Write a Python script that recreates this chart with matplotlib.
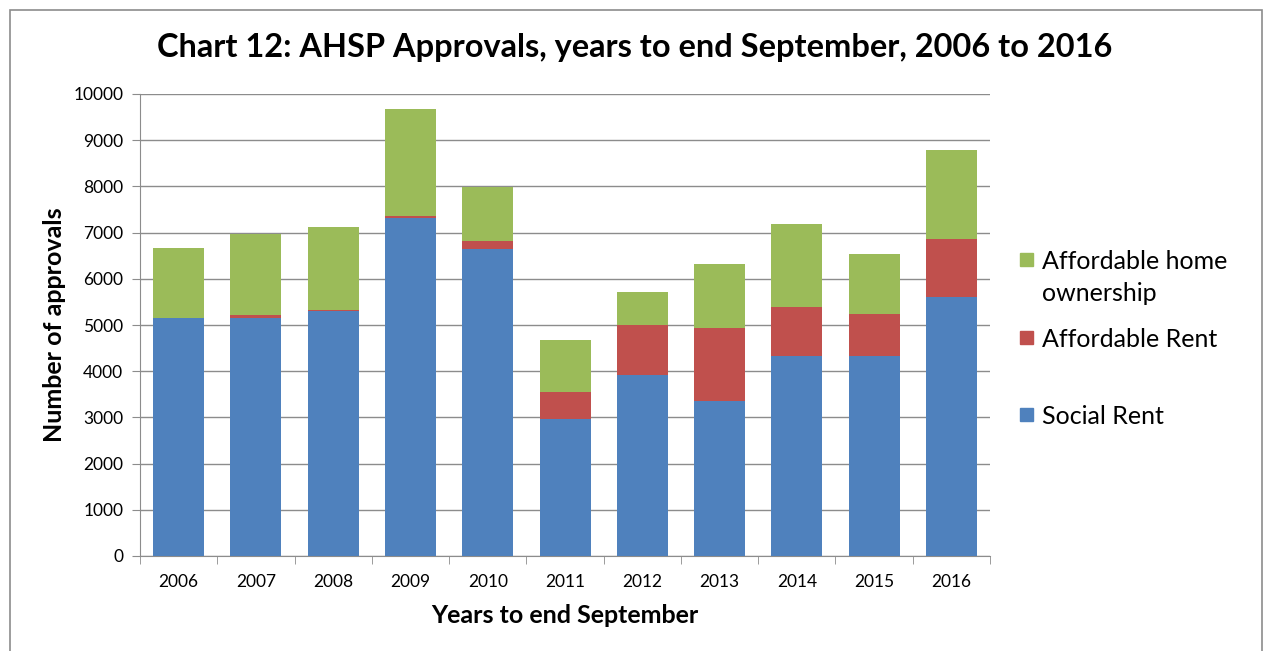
import matplotlib
matplotlib.use("Agg")
import matplotlib.pyplot as plt
import numpy as np
from matplotlib.patches import Rectangle

plt.rcParams['font.family'] = ['Lato', 'DejaVu Sans']

years = ['2006', '2007', '2008', '2009', '2010', '2011', '2012', '2013', '2014', '2015', '2016']
social_rent = [5150, 5160, 5300, 7320, 6640, 2960, 3920, 3350, 4330, 4330, 5610]
affordable_rent = [0, 50, 20, 30, 170, 580, 1080, 1590, 1060, 910, 1260]
home_ownership = [1520, 1760, 1800, 2330, 1180, 1130, 710, 1370, 1800, 1300, 1910]

c_social = '#4f81bd'
c_rent = '#c0504d'
c_home = '#9bbb59'

W, H = 1269, 651
fig = plt.figure(figsize=(W / 100, H / 100), dpi=100)
ax = fig.add_axes([140 / W, 1 - 556 / H, 850 / W, 462 / H])

x = np.arange(len(years))
w = 0.66
social = np.array(social_rent)
rent = np.array(affordable_rent)
home = np.array(home_ownership)
ax.bar(x, social, w, color=c_social, zorder=3)
ax.bar(x, rent, w, bottom=social, color=c_rent, zorder=3)
ax.bar(x, home, w, bottom=social + rent, color=c_home, zorder=3)

ax.set_xlim(-0.5, len(years) - 0.5)
ax.set_ylim(0, 10000)
ax.set_yticks(np.arange(0, 10001, 1000))
ax.yaxis.grid(True, color='#8c8c8c', linewidth=1)
ax.set_axisbelow(True)
ax.set_xticks(x)
ax.set_xticklabels(years)
ax.set_xticks(np.arange(-0.5, len(years), 1), minor=True)
ax.tick_params(axis='x', which='major', length=0, labelsize=12.5, pad=13)
ax.tick_params(axis='x', which='minor', length=6, color='#8c8c8c')
ax.tick_params(axis='y', length=6, color='#8c8c8c', labelsize=12.5, pad=6)
for s in ['top', 'right']:
    ax.spines[s].set_visible(False)
for s in ['left', 'bottom']:
    ax.spines[s].set_color('#8c8c8c')

ax.set_xlabel('Years to end September', fontsize=18, fontweight='bold', labelpad=10)
ax.set_ylabel('Number of approvals', fontsize=18, fontweight='bold', labelpad=5)

fig.text(0.5, 1 - 47 / H, 'Chart 12: AHSP Approvals, years to end September, 2006 to 2016',
         ha='center', va='center', fontsize=23.4, fontweight='bold')

# legend, laid out the way Excel spaces it
legend_items = [(c_home, 'Affordable home\nownership', 260), (c_rent, 'Affordable Rent', 338),
                (c_social, 'Social Rent', 415)]
for color, label, ypix in legend_items:
    fig.patches.append(Rectangle((1020 / W, 1 - (ypix + 6) / H), 13 / W, 13 / H,
                                 transform=fig.transFigure, color=color))
    fig.text(1042 / W, 1 - (ypix - 10) / H, label, ha='left', va='top',
             fontsize=18, linespacing=1.45)

fig.patches.append(Rectangle((10 / W, -0.01), 1252 / W, 1 - 10 / H + 0.01,
                             transform=fig.transFigure, fill=False,
                             edgecolor='#8c8c8c', linewidth=1.2))

fig.savefig('out.png', dpi=100)
